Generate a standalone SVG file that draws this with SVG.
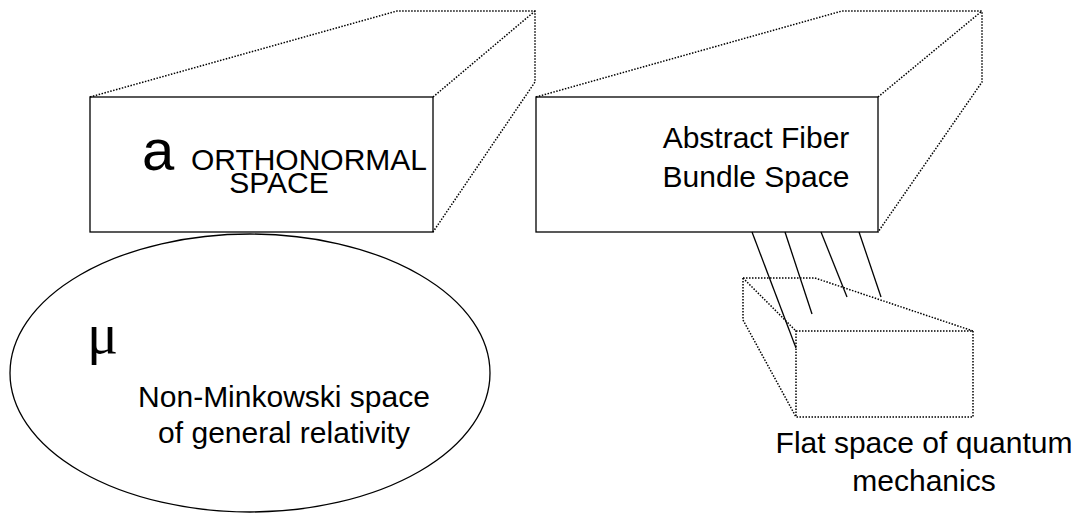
<svg xmlns="http://www.w3.org/2000/svg" width="1082" height="514" viewBox="0 0 1082 514">
<style>
.solid{fill:none;stroke:#000;stroke-width:1.3}
.dot{fill:none;stroke:#000;stroke-width:1.5;stroke-dasharray:1.5,1.5}
.t{font-family:"Liberation Sans",Arial,sans-serif;font-size:30px;fill:#000;text-anchor:middle}
</style>
<rect width="1082" height="514" fill="#fff"/>
<g id="box-orthonormal">
<polyline class="dot" points="90,97 397,11 535,11 535,82 433,232"/>
<line class="dot" x1="433" y1="97" x2="535" y2="11"/>
<rect class="solid" x="90" y="97" width="343" height="135" fill="#fff"/>
<text x="142" y="170" style="font-family:'Liberation Sans',Arial,sans-serif;font-size:58px">a</text>
<text class="t" x="309" y="170">ORTHONORMAL</text>
<text class="t" x="279" y="193">SPACE</text>
</g>
<g id="box-fiber">
<polyline class="dot" points="536,97 842,11 982,11 982,82 878,232"/>
<line class="dot" x1="878" y1="97" x2="982" y2="11"/>
<rect class="solid" x="536" y="97" width="342" height="135" fill="#fff"/>
<text class="t" x="756" y="148">Abstract Fiber</text>
<text class="t" x="756" y="187">Bundle Space</text>
</g>
<g id="ellipse-gr">
<ellipse class="solid" cx="250" cy="373" rx="240" ry="139"/>
<text x="87" y="353" style="font-family:'Liberation Serif','Times New Roman',serif;font-size:58px">μ</text>
<text class="t" x="284" y="407">Non-Minkowski space</text>
<text class="t" x="284" y="443">of general relativity</text>
</g>
<g id="box-flat">
<polyline class="dot" points="743,278 815,278 973,331"/>
<polyline class="dot" points="743,278 743,320 796,417"/>
<line class="dot" x1="743" y1="278" x2="796" y2="331"/>
<rect class="dot" x="796" y="331" width="177" height="86"/>
<text class="t" x="924" y="453">Flat space of quantum</text>
<text class="t" x="924" y="491">mechanics</text>
</g>
<g id="connectors">
<line class="solid" x1="752" y1="232" x2="796" y2="348"/>
<line class="solid" x1="785" y1="232" x2="812" y2="314"/>
<line class="solid" x1="821" y1="232" x2="847" y2="297"/>
<line class="solid" x1="859" y1="232" x2="881" y2="297"/>
</g>
</svg>
